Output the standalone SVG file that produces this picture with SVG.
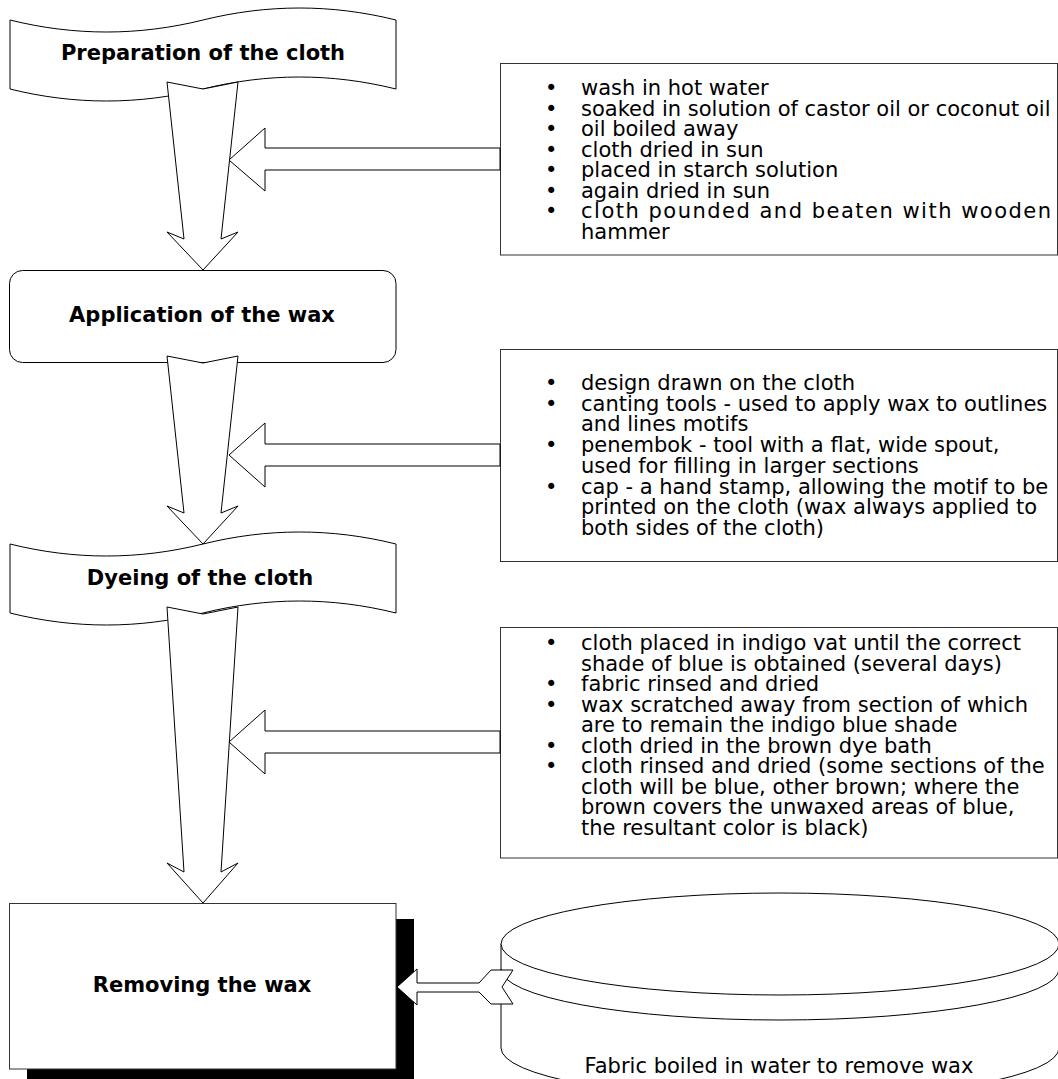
<svg xmlns="http://www.w3.org/2000/svg" width="1058" height="1079" viewBox="0 0 1058 1079">
<style>
.shape{fill:#fff;stroke:#000;stroke-width:1}
.box{fill:#fff;stroke:#333;stroke-width:1}
.lbl{font-family:"DejaVu Sans","Liberation Sans",sans-serif;font-size:21px;font-weight:bold;fill:#000;text-anchor:middle}
.txt{font-family:"DejaVu Sans","Liberation Sans",sans-serif;font-size:21px;fill:#000}
.arrow{fill:#fff;stroke:#000;stroke-width:1;stroke-linejoin:miter}
</style>
<rect width="1058" height="1079" fill="#fff"/>

<g id="node-preparation">
<path class="shape" d="M10,20 C74.3,36 138.7,36 203,20 C267.3,4 331.7,4 396,20 L396,89 C331.7,73 267.3,73 203,89 C138.7,105 74.3,105 10,89 Z"/>
<text class="lbl" x="203" y="60">Preparation of the cloth</text>
</g>

<g id="node-application">
<rect class="shape" x="9.5" y="270.5" width="386.5" height="92" rx="13" ry="13"/>
<text class="lbl" x="202" y="322">Application of the wax</text>
</g>

<g id="node-dyeing">
<path class="shape" d="M10,544 C74.3,560 138.7,560 203,544 C267.3,528 331.7,528 396,544 L396,613 C331.7,597 267.3,597 203,613 C138.7,629 74.3,629 10,613 Z"/>
<text class="lbl" x="200" y="585">Dyeing of the cloth</text>
</g>

<g id="node-removing">
<rect x="27" y="919" width="387" height="170" fill="#000"/>
<rect class="box" x="9.5" y="903.5" width="386.5" height="165.5"/>
<text class="lbl" x="202" y="992">Removing the wax</text>
</g>

<g id="node-notes-preparation">
<rect class="box" x="500.5" y="63.5" width="557" height="191.5"/>
<text class="txt"><tspan x="545" y="95">•</tspan><tspan x="581" y="95">wash in hot water</tspan><tspan x="545" y="115.5">•</tspan><tspan x="581" y="115.5">soaked in solution of castor oil or coconut oil</tspan><tspan x="545" y="136">•</tspan><tspan x="581" y="136">oil boiled away</tspan><tspan x="545" y="156.5">•</tspan><tspan x="581" y="156.5">cloth dried in sun</tspan><tspan x="545" y="177">•</tspan><tspan x="581" y="177">placed in starch solution</tspan><tspan x="545" y="197.5">•</tspan><tspan x="581" y="197.5">again dried in sun</tspan><tspan x="545" y="218">•</tspan><tspan x="581" y="218" letter-spacing="1.5">cloth pounded and beaten with wooden</tspan><tspan x="581" y="238.5">hammer</tspan></text>
</g>

<g id="node-notes-application">
<rect class="box" x="500.5" y="349.5" width="557" height="212"/>
<text class="txt"><tspan x="545" y="390">•</tspan><tspan x="581" y="390">design drawn on the cloth</tspan><tspan x="545" y="410.7">•</tspan><tspan x="581" y="410.7">canting tools - used to apply wax to outlines</tspan><tspan x="581" y="431.4">and lines motifs</tspan><tspan x="545" y="452.1">•</tspan><tspan x="581" y="452.1">penembok - tool with a flat, wide spout,</tspan><tspan x="581" y="472.8">used for filling in larger sections</tspan><tspan x="545" y="493.5">•</tspan><tspan x="581" y="493.5">cap - a hand stamp, allowing the motif to be</tspan><tspan x="581" y="514.2">printed on the cloth (wax always applied to</tspan><tspan x="581" y="534.9">both sides of the cloth)</tspan></text>
</g>

<g id="node-notes-dyeing">
<rect class="box" x="500.5" y="627.5" width="557" height="230.5"/>
<text class="txt"><tspan x="545" y="650">•</tspan><tspan x="581" y="650">cloth placed in indigo vat until the correct</tspan><tspan x="581" y="670.5">shade of blue is obtained (several days)</tspan><tspan x="545" y="691">•</tspan><tspan x="581" y="691">fabric rinsed and dried</tspan><tspan x="545" y="711.5">•</tspan><tspan x="581" y="711.5">wax scratched away from section of which</tspan><tspan x="581" y="732">are to remain the indigo blue shade</tspan><tspan x="545" y="752.5">•</tspan><tspan x="581" y="752.5">cloth dried in the brown dye bath</tspan><tspan x="545" y="773">•</tspan><tspan x="581" y="773">cloth rinsed and dried (some sections of the</tspan><tspan x="581" y="793.5">cloth will be blue, other brown; where the</tspan><tspan x="581" y="814">brown covers the unwaxed areas of blue,</tspan><tspan x="581" y="834.5">the resultant color is black)</tspan></text>
</g>

<g id="node-boiling">
<path class="shape" d="M501,944 L501,1048 A279,51 0 0 0 1059,1048 L1059,944 Z"/>
<ellipse class="shape" cx="780" cy="944" rx="279" ry="51"/>
<path fill="none" stroke="#000" stroke-width="1" d="M501,969 A279,51 0 0 0 1059,969"/>
<text class="txt" x="779" y="1073" text-anchor="middle">Fabric boiled in water to remove wax</text>
</g>

<g id="connectors">
<polygon class="arrow" points="167,82 203,89 238,82 221,239 238,232 203,270 167,232 184,239"/>
<polygon class="arrow" points="167,356 203,363 238,356 221,513 238,506 203,544 167,506 184,513"/>
<polygon class="arrow" points="167,607 203,614 238,607 221,872 238,863 203,903 167,863 184,872"/>
<polygon class="arrow" points="229,160 265,128 265,148 500,148 500,170 265,170 265,191"/>
<polygon class="arrow" points="229,455 265,423 265,444 500,444 500,466 265,466 265,487"/>
<polygon class="arrow" points="229,742 265,710 265,731 500,731 500,753 265,753 265,774"/>
<polygon class="arrow" points="397,987 417,969 417,983 479,983 491,970 513,970 502,987 513,1004 491,1004 479,992 417,992 417,1005"/>
</g>
</svg>
